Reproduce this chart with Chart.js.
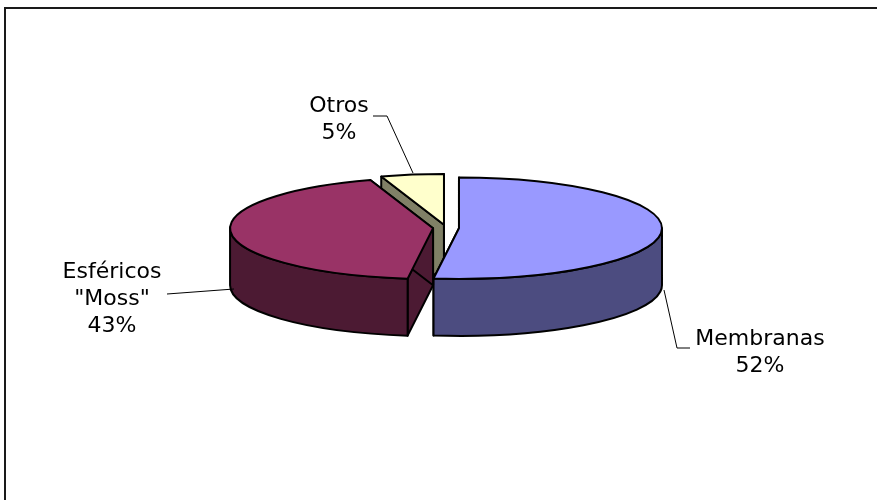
<!DOCTYPE html>
<html>
<head>
<meta charset="utf-8">
<script src="https://cdn.jsdelivr.net/npm/chart.js@4/dist/chart.umd.min.js"></script>
<style>
  body { margin: 0; background: #fff; }
  canvas { display: block; }
</style>
</head>
<body>
<canvas id="pieChart" width="877" height="500"></canvas>
<script>
  // datos
  const categorias = ['Membranas', 'Esféricos "Moss"', 'Otros'];
  const porcentajes = [52, 43, 5];
  const coloresTapa = ['#9999ff', '#993366', '#ffffcc'];
  const coloresLado = ['#4c4c80', '#4c1a33', '#808066'];

  // posicion de las etiquetas (centro x, primera linea y)
  const posEtiquetas = [[760, 345], [112, 278], [339, 112]];
  // lineas guia
  const guias = [
    [[664, 290], [677, 348], [690, 348]],
    [[234, 289], [167, 294]],
    [[413, 173], [387, 116], [373, 116]]
  ];

  const inclinacion = 0.25;
  const profundidad = 57;

  const marco = {
    id: 'marco',
    beforeDraw(chart) {
      const c = chart.ctx;
      c.save();
      c.fillStyle = '#fff';
      c.fillRect(0, 0, chart.width, chart.height);
      c.strokeStyle = '#1a1a1a';
      c.lineWidth = 2;
      c.strokeRect(5, 8, 920, 600);
      c.restore();
    }
  };

  const pie3d = {
    id: 'pie3d',
    beforeDatasetsDraw(chart) {
      const c = chart.ctx;
      const meta = chart.getDatasetMeta(0);
      const k = inclinacion, d = profundidad;
      let trozos = meta.data.map((arc, i) => {
        const p = arc.getProps(['x', 'y', 'startAngle', 'endAngle', 'outerRadius'], true);
        const mid = (p.startAngle + p.endAngle) / 2;
        const off = arc.options.offset || 0;
        return {
          i: i,
          cx: p.x + Math.cos(mid) * off,
          cy: p.y + Math.sin(mid) * off * k,
          r: p.outerRadius,
          ry: p.outerRadius * k,
          a0: p.startAngle,
          a1: p.endAngle,
          mid: mid
        };
      });
      // de atras hacia adelante
      trozos.sort((a, b) => Math.sin(a.mid) - Math.sin(b.mid));

      c.save();
      c.lineWidth = 2;
      c.lineJoin = 'round';
      c.strokeStyle = '#000';

      trozos.forEach(t => {
        const px = a => t.cx + t.r * Math.cos(a);
        const py = a => t.cy + t.ry * Math.sin(a);

        // caras de corte
        c.fillStyle = coloresLado[t.i];
        [t.a0, t.a1].forEach(a => {
          c.beginPath();
          c.moveTo(t.cx, t.cy);
          c.lineTo(px(a), py(a));
          c.lineTo(px(a), py(a) + d);
          c.lineTo(t.cx, t.cy + d);
          c.closePath();
          c.fill();
          c.stroke();
        });

        // pared exterior (solo la parte delantera)
        const lo = Math.max(t.a0, 0), hi = Math.min(t.a1, Math.PI);
        if (lo < hi) {
          c.beginPath();
          c.ellipse(t.cx, t.cy, t.r, t.ry, 0, lo, hi, false);
          c.lineTo(px(hi), py(hi) + d);
          c.ellipse(t.cx, t.cy + d, t.r, t.ry, 0, hi, lo, true);
          c.closePath();
          c.fill();
          c.stroke();
        }

        // tapa
        c.fillStyle = coloresTapa[t.i];
        c.beginPath();
        c.moveTo(t.cx, t.cy);
        c.ellipse(t.cx, t.cy, t.r, t.ry, 0, t.a0, t.a1, false);
        c.closePath();
        c.fill();
        c.stroke();
      });
      c.restore();
      return false;
    },
    afterDraw(chart) {
      const c = chart.ctx;
      c.save();
      c.strokeStyle = '#000';
      c.lineWidth = 1;
      guias.forEach(g => {
        c.beginPath();
        c.moveTo(g[0][0], g[0][1]);
        for (let j = 1; j < g.length; j++) c.lineTo(g[j][0], g[j][1]);
        c.stroke();
      });
      c.fillStyle = '#000';
      c.font = '22px "DejaVu Sans"';
      c.textAlign = 'center';
      c.textBaseline = 'alphabetic';
      categorias.forEach((cat, i) => {
        const lineas = cat.split(' ').concat([porcentajes[i] + '%']);
        lineas.forEach((l, j) => {
          c.fillText(l, posEtiquetas[i][0], posEtiquetas[i][1] + j * 27);
        });
      });
      c.restore();
    }
  };

  const ctx = document.getElementById('pieChart').getContext('2d');
  const grafico = new Chart(ctx, {
    type: 'pie',
    data: {
      labels: categorias,
      datasets: [{
        data: porcentajes,
        backgroundColor: coloresTapa,
        borderColor: '#000',
        borderWidth: 2,
        offset: 13,
        radius: 203
      }]
    },
    options: {
      responsive: false,
      animation: false,
      layout: { padding: { left: 15, right: 0, top: 0, bottom: 44 } },
      plugins: {
        legend: { display: false },
        tooltip: { enabled: false }
      }
    },
    plugins: [marco, pie3d]
  });
</script>
</body>
</html>
